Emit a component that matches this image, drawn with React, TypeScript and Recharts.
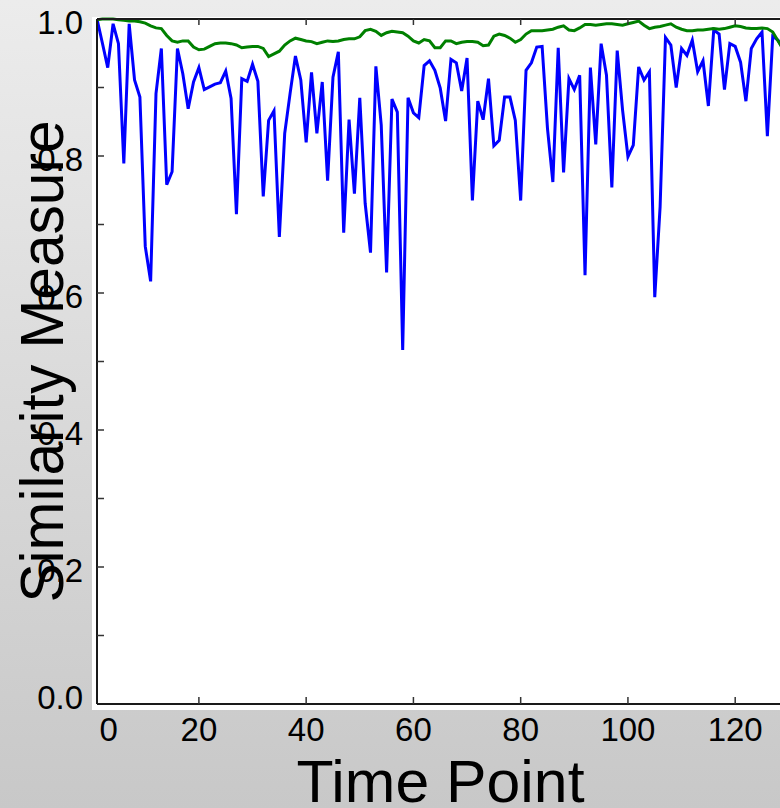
import { Line, LineChart, XAxis, YAxis } from "recharts";

const blueSeries = [
  1.0, 0.965, 0.929, 0.993, 0.964, 0.789, 0.993, 0.911, 0.886, 0.668,
  0.617, 0.891, 0.957, 0.758, 0.777, 0.957, 0.92, 0.869, 0.908, 0.929,
  0.897, 0.901, 0.905, 0.907, 0.924, 0.884, 0.715, 0.913, 0.909, 0.934,
  0.909, 0.741, 0.852, 0.866, 0.682, 0.833, 0.891, 0.946, 0.911, 0.82,
  0.922, 0.833, 0.908, 0.764, 0.915, 0.952, 0.688, 0.853, 0.745, 0.885,
  0.731, 0.659, 0.931, 0.845, 0.63, 0.883, 0.864, 0.517, 0.885, 0.863,
  0.856, 0.932, 0.939, 0.925, 0.899, 0.851, 0.941, 0.936, 0.895, 0.943,
  0.735, 0.88, 0.853, 0.913, 0.815, 0.823, 0.886, 0.886, 0.852, 0.735,
  0.925, 0.936, 0.959, 0.96, 0.84, 0.762, 0.958, 0.776, 0.913, 0.897,
  0.918, 0.626, 0.929, 0.817, 0.964, 0.918, 0.754, 0.954, 0.867, 0.799,
  0.816, 0.93, 0.911, 0.923, 0.594, 0.726, 0.973, 0.962, 0.9, 0.957,
  0.947, 0.969, 0.923, 0.939, 0.873, 0.984, 0.978, 0.897, 0.964, 0.96,
  0.937, 0.88, 0.957, 0.971, 0.981, 0.829, 0.975, 0.969, 0.955,
];

const greenSeries = [
  0.999, 1.0, 1.0, 1.0, 0.999, 0.998, 0.997, 0.997, 0.996, 0.994,
  0.99, 0.987, 0.986, 0.976, 0.968, 0.966, 0.968, 0.968, 0.959, 0.955,
  0.956, 0.96, 0.964, 0.965, 0.965, 0.964, 0.962, 0.958, 0.959, 0.96,
  0.96, 0.957, 0.945, 0.949, 0.953, 0.962, 0.968, 0.972, 0.97, 0.968,
  0.967, 0.964, 0.966, 0.968, 0.967, 0.968, 0.97, 0.971, 0.971, 0.974,
  0.983, 0.985, 0.982, 0.976, 0.98, 0.982, 0.981, 0.98, 0.975, 0.968,
  0.965, 0.97, 0.968, 0.958, 0.958, 0.968, 0.968, 0.964, 0.966, 0.967,
  0.967, 0.966, 0.961, 0.962, 0.975, 0.978, 0.976, 0.972, 0.966, 0.97,
  0.978, 0.983, 0.983, 0.983, 0.984, 0.985, 0.988, 0.99, 0.984, 0.983,
  0.987, 0.992, 0.992, 0.991, 0.992, 0.993, 0.993, 0.992, 0.991, 0.993,
  0.995, 0.997, 0.991, 0.986, 0.988, 0.989, 0.991, 0.993, 0.988, 0.985,
  0.983, 0.983, 0.984, 0.984, 0.985, 0.986, 0.985, 0.986, 0.988, 0.99,
  0.989, 0.987, 0.986, 0.986, 0.987, 0.986, 0.981, 0.968, 0.955,
];

const timePoints = blueSeries.map((_, i) => i + 1);
const xTicks = [0, 20, 40, 60, 80, 100, 120];
const yTicks = [0, 0.1, 0.2, 0.3, 0.4, 0.5, 0.6, 0.7, 0.8, 0.9, 1.0];
const yLabelled = [0, 0.2, 0.4, 0.6, 0.8, 1.0];

const data = timePoints.map((t, i) => ({ t, blue: blueSeries[i], green: greenSeries[i] }));

const FONT = "'Liberation Sans', Arial, sans-serif";
const SPINE = { stroke: "#1a1a1a", strokeWidth: 2 };
const TICK_COLOR = "#333";

function BottomTick({ x, y, payload }: any) {
  const first = payload.value === xTicks[0];
  return (
    <g>
      {!first && <line x1={x} y1={y} x2={x} y2={y - 7} stroke={TICK_COLOR} strokeWidth={1.5} />}
      <text x={first ? x + 17 : x} y={y + 37} textAnchor="middle" fontSize={33} fontFamily={FONT} fill="#000">
        {payload.value}
      </text>
    </g>
  );
}

function TopTick({ x, y, payload }: any) {
  if (payload.value === xTicks[0]) return null;
  return <line x1={x} y1={y} x2={x} y2={y + 6} stroke={TICK_COLOR} strokeWidth={1.5} />;
}

function LeftTick({ x, y, payload }: any) {
  const v = Math.round(payload.value * 10) / 10;
  const show = yLabelled.some((l) => Math.abs(l - v) < 1e-6);
  const base = v === 0 ? y + 5 : y + 15;
  return (
    <g>
      {v > 0 && v < 1 && <line x1={x} y1={y} x2={x + 7} y2={y} stroke={TICK_COLOR} strokeWidth={1.5} />}
      {show && (
        <text x={x - 14} y={base} textAnchor="end" fontSize={33} fontFamily={FONT} fill="#000">
          {v.toFixed(1)}
        </text>
      )}
    </g>
  );
}

function RightTick({ x, y, payload }: any) {
  if (payload.value <= 0 || payload.value >= 1) return null;
  return <line x1={x} y1={y} x2={x - 7} y2={y} stroke={TICK_COLOR} strokeWidth={1.5} />;
}

function XTitle({ viewBox }: any) {
  return (
    <text
      x={viewBox.x + viewBox.width / 2}
      y={viewBox.y + 98}
      textAnchor="middle"
      fontSize={60}
      fontFamily={FONT}
      textLength={288}
      lengthAdjust="spacingAndGlyphs"
      fill="#000"
    >
      Time Point
    </text>
  );
}

function YTitle({ viewBox }: any) {
  const cx = viewBox.x + 63;
  const cy = viewBox.y + viewBox.height / 2;
  return (
    <text
      x={cx}
      y={cy}
      transform={`rotate(-90 ${cx} ${cy})`}
      textAnchor="middle"
      fontSize={62}
      fontFamily={FONT}
      textLength={482}
      lengthAdjust="spacingAndGlyphs"
      fill="#000"
    >
      Similarity Measure
    </text>
  );
}

export default function App() {
  return (
    <div
      style={{
        position: "relative",
        width: 780,
        height: 808,
        overflow: "hidden",
        background: "linear-gradient(to bottom, #ececec, #c8c8c8)",
      }}
    >
      <style>{"body{margin:0}"}</style>
      <div style={{ position: "absolute", left: 92, top: 16.5, width: 700, height: 693, background: "#fff" }} />
      <div style={{ position: "absolute", left: 0, top: 0 }}>
        <LineChart width={790} height={808} data={data} margin={{ top: 0, right: 0, bottom: 0, left: 0 }}>
          <XAxis
            xAxisId="b"
            dataKey="t"
            type="number"
            domain={[1, 129.1]}
            allowDataOverflow
            ticks={xTicks}
            interval={0}
            height={104}
            tickSize={0}
            tickMargin={0}
            tickLine={false}
            axisLine={SPINE}
            tick={<BottomTick />}
            label={<XTitle />}
          />
          <XAxis
            xAxisId="t"
            orientation="top"
            dataKey="t"
            type="number"
            domain={[1, 129.1]}
            allowDataOverflow
            ticks={xTicks}
            interval={0}
            height={19}
            tickSize={0}
            tickMargin={0}
            tickLine={false}
            axisLine={SPINE}
            tick={<TopTick />}
          />
          <YAxis
            yAxisId="l"
            type="number"
            domain={[0, 1]}
            ticks={yTicks}
            interval={0}
            width={97}
            tickSize={0}
            tickMargin={0}
            tickLine={false}
            axisLine={SPINE}
            tick={<LeftTick />}
            label={<YTitle />}
          />
          <YAxis
            yAxisId="r"
            orientation="right"
            type="number"
            domain={[0, 1]}
            ticks={yTicks}
            interval={0}
            width={6}
            tickSize={0}
            tickMargin={0}
            tickLine={false}
            axisLine={SPINE}
            tick={<RightTick />}
          />
          <Line
            xAxisId="b"
            yAxisId="l"
            type="linear"
            dataKey="blue"
            stroke="#0000ff"
            strokeWidth={3}
            dot={false}
            isAnimationActive={false}
          />
          <Line
            xAxisId="b"
            yAxisId="l"
            type="linear"
            dataKey="green"
            stroke="#008000"
            strokeWidth={3}
            dot={false}
            isAnimationActive={false}
          />
        </LineChart>
      </div>
    </div>
  );
}
